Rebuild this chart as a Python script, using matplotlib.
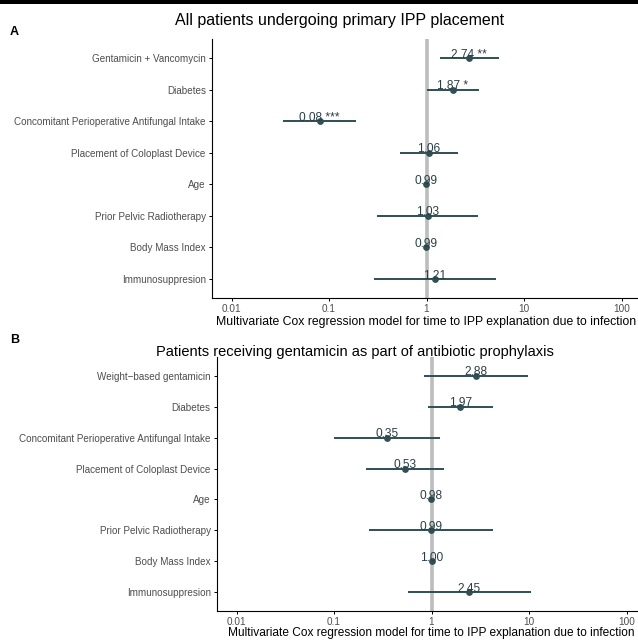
import numpy as np
import matplotlib
matplotlib.use("Agg")
import matplotlib.pyplot as plt
from matplotlib.patches import Rectangle

plt.rcParams['font.family'] = ['Liberation Sans', 'DejaVu Sans']

# panel A: all patients
labels_a = ["Gentamicin + Vancomycin", "Diabetes", "Concomitant Perioperative Antifungal Intake",
            "Placement of Coloplast Device", "Age", "Prior Pelvic Radiotherapy",
            "Body Mass Index", "Immunosuppresion"]
hr_a = [2.74, 1.87, 0.08, 1.06, 0.99, 1.03, 0.99, 1.21]
lo_a = [1.39, 1.02, 0.034, 0.54, 0.97, 0.31, 0.95, 0.29]
hi_a = [5.48, 3.42, 0.19, 2.08, 1.01, 3.34, 1.03, 5.2]
stars_a = ["**", "*", "***", "", "", "", "", ""]

# panel B: gentamicin prophylaxis
labels_b = ["Weight\u2212based gentamicin", "Diabetes", "Concomitant Perioperative Antifungal Intake",
            "Placement of Coloplast Device", "Age", "Prior Pelvic Radiotherapy",
            "Body Mass Index", "Immunosuppresion"]
hr_b = [2.88, 1.97, 0.35, 0.53, 0.98, 0.99, 1.00, 2.45]
lo_b = [0.83, 0.93, 0.10, 0.215, 0.96, 0.23, 0.96, 0.57]
hi_b = [9.85, 4.23, 1.21, 1.33, 1.00, 4.3, 1.04, 10.6]
stars_b = ["", "", "", "", "", "", "", ""]

xticks = [0.01, 0.1, 1, 10, 100]
xticklabels = ["0.01", "0.1", "1", "10", "100"]
xlab = "Multivariate Cox regression model for time to IPP explanation due to infection"

W, H = 638, 642
fig = plt.figure(figsize=(W / 100, H / 100), dpi=100)
teal = "#2F4F55"


def forest(ax, labels, hr, lo, hi, stars, xlab_size=8.8):
    y = np.arange(1, len(labels) + 1)
    ax.axvline(1, color="#BDBDBD", lw=2.6, zorder=1)
    ax.hlines(y, lo, hi, color=teal, lw=1.4, zorder=2)
    ax.scatter(hr, y, s=15, color=teal, zorder=3)
    for yi, v, s in zip(y, hr, stars):
        txt = f"{v:.2f}" + (" " + s if s else "")
        ax.annotate(txt, (v, yi), xytext=(0, 0.3), textcoords="offset points",
                    ha="center", va="baseline", fontsize=8.6, color="#2B3E45", zorder=4)
    ax.set_xscale("log")
    ax.set_xlim(10 ** -2.2, 10 ** 2.2)
    ax.set_ylim(len(labels) + 0.6, 0.4)
    ax.set_yticks(y)
    ax.set_yticklabels(labels, fontsize=7.1, color="#4D4D4D")
    ax.set_xticks(xticks)
    ax.set_xticklabels(xticklabels, fontsize=7.2, color="#4D4D4D")
    ax.minorticks_off()
    ax.tick_params(length=2.5, width=0.7, pad=2)
    for sp in ["top", "right"]:
        ax.spines[sp].set_visible(False)
    for sp in ["left", "bottom"]:
        ax.spines[sp].set_linewidth(0.8)
    ax.set_xlabel(xlab, fontsize=xlab_size, labelpad=1)


def box(left, top, right, bottom):
    return [left / W, 1 - bottom / H, (right - left) / W, (bottom - top) / H]


ax_a = fig.add_axes(box(212, 39, 641, 298))
forest(ax_a, labels_a, hr_a, lo_a, hi_a, stars_a)
ax_b = fig.add_axes(box(217, 357, 646, 611))
forest(ax_b, labels_b, hr_b, lo_b, hi_b, stars_b, xlab_size=8.6)
ax_b.xaxis.labelpad = 0

fig.text(340 / W, 1 - 20 / H, "All patients undergoing primary IPP placement",
         ha="center", va="center", fontsize=11.5)
fig.text(355 / W, 1 - 352 / H, "Patients receiving gentamicin as part of antibiotic prophylaxis",
         ha="center", va="center", fontsize=10.5)
fig.text(10 / W, 1 - 32 / H, "A", fontsize=9, fontweight="bold", va="center")
fig.text(10 / W, 1 - 340 / H, "B", fontsize=9, fontweight="bold", va="center")
fig.add_artist(Rectangle((0, 1 - 4 / H), 1, 4 / H, transform=fig.transFigure,
                         color="black", lw=0))

fig.savefig("out.png", dpi=100)
